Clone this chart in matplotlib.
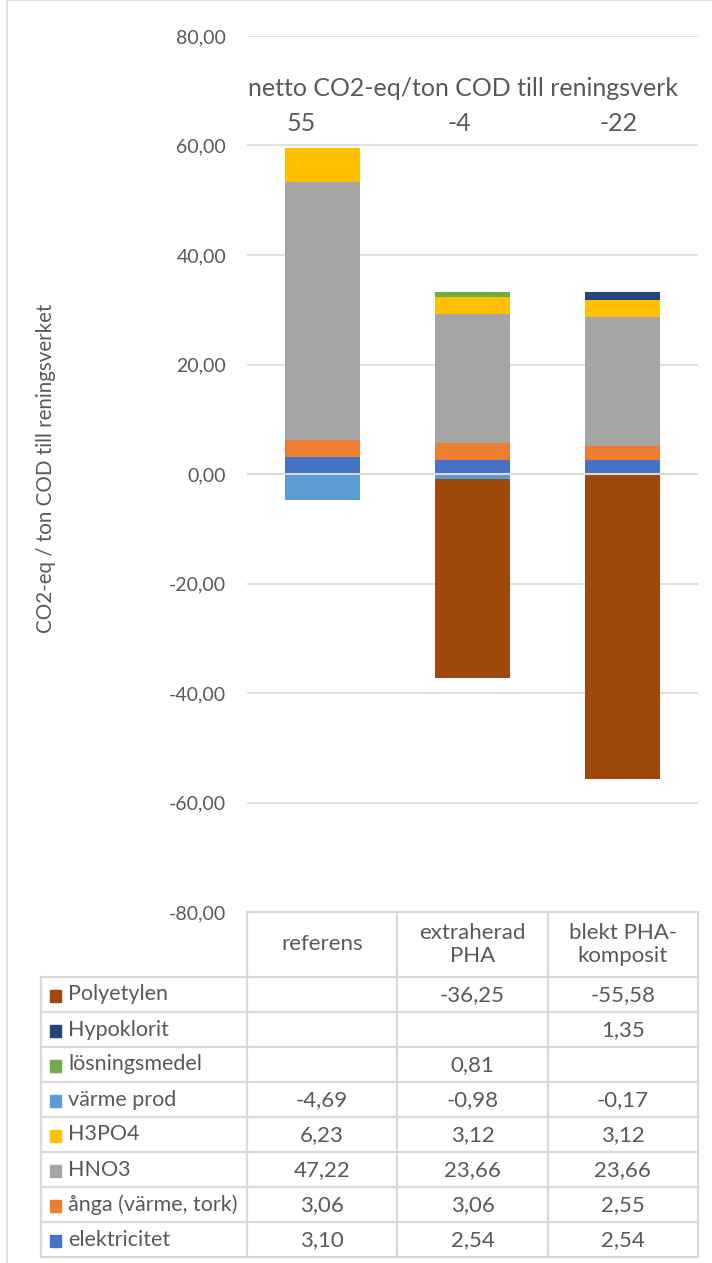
import matplotlib

matplotlib.use("Agg")
import matplotlib.pyplot as plt
import numpy as np
from matplotlib.patches import Rectangle

plt.rcParams["font.family"] = ["Lato", "DejaVu Sans"]

# Scenarios (columns) and emission sources (series, stacked bottom -> top)
scenarios = ["referens", "extraherad\nPHA", "blekt PHA-\nkomposit"]
net_labels = ["55", "-4", "-22"]
series = ["elektricitet", "ånga (värme, tork)", "HNO3", "H3PO4",
          "värme prod", "lösningsmedel", "Hypoklorit", "Polyetylen"]
elektricitet = [3.10, 2.54, 2.54]
anga = [3.06, 3.06, 2.55]
hno3 = [47.22, 23.66, 23.66]
h3po4 = [6.23, 3.12, 3.12]
varme_prod = [-4.69, -0.98, -0.17]
losningsmedel = [np.nan, 0.81, np.nan]
hypoklorit = [np.nan, np.nan, 1.35]
polyetylen = [np.nan, -36.25, -55.58]
values = [elektricitet, anga, hno3, h3po4, varme_prod, losningsmedel,
          hypoklorit, polyetylen]
colors = ["#4472C4", "#ED7D31", "#A5A5A5", "#FFC000",
          "#5B9BD5", "#70AD47", "#264478", "#9E480E"]

TXT = "#595959"
GRID = "#D9D9D9"
W, H = 712, 1263

fig = plt.figure(figsize=(W / 100, H / 100), dpi=100)


def fx(px):
    return px / W


def fy(py):
    return 1 - py / H


# outer chart border
fig.patches.append(Rectangle((fx(7), fy(1275)), fx(720), 1275 / H,
                             transform=fig.transFigure, fill=False,
                             edgecolor=GRID, lw=1.2))

L, R, T, B = 247, 698, 36, 912
ax = fig.add_axes([fx(L), fy(B), fx(R - L), (B - T) / H])

x = np.arange(len(scenarios))
pos_base = np.zeros(len(scenarios))
neg_base = np.zeros(len(scenarios))
for name, vals, c in zip(series, values, colors):
    v = np.nan_to_num(np.array(vals, dtype=float))
    bottom = np.where(v >= 0, pos_base, neg_base)
    ax.bar(x, v, width=0.5, bottom=bottom, color=c, zorder=2)
    pos_base = pos_base + np.where(v > 0, v, 0)
    neg_base = neg_base + np.where(v < 0, v, 0)

ax.set_xlim(-0.5, 2.5)
ax.set_ylim(-80, 80)
ax.set_yticks(np.arange(-80, 81, 20))
ax.set_yticklabels([f"{t:.2f}".replace(".", ",") for t in np.arange(-80, 81, 20)],
                   fontsize=14, color=TXT)
ax.tick_params(axis="y", length=0, pad=15)
ax.set_xticks([])
ax.grid(axis="y", color=GRID, lw=1.2, zorder=0)
for s in ax.spines.values():
    s.set_visible(False)
ax.axhline(0, color=GRID, lw=1.5, zorder=3)

ax.text(0.94, 70.5, "netto CO2-eq/ton COD till reningsverk", ha="center",
        va="center", fontsize=18, color=TXT)
for xp, lab in zip([-0.14, 0.91, 1.97], net_labels):
    ax.text(xp, 64.0, lab, ha="center", va="center", fontsize=18, color=TXT)

fig.text(fx(46), fy(468), "CO2-eq / ton COD till reningsverket", rotation=90,
         ha="center", va="center", fontsize=14.8, color=TXT)

# data table below the plot area
tl, tr = 41, R
hdr_top, hdr_bot, row_h = B, 977, 35
col_w = (R - L) / 3
col_edges = [L + i * col_w for i in range(4)]
tab = fig.add_axes([0, 0, 1, 1], facecolor="none")
tab.set_xlim(0, W)
tab.set_ylim(H, 0)
tab.axis("off")

lw = 1.6
# header cells
tab.plot([L, R], [hdr_top, hdr_top], color=GRID, lw=lw)
for xe in col_edges:
    tab.plot([xe, xe], [hdr_top, hdr_bot], color=GRID, lw=lw)
for i, name in enumerate(scenarios):
    tab.text(col_edges[i] + col_w / 2, (hdr_top + hdr_bot) / 2, name,
             ha="center", va="center", fontsize=16, color=TXT, linespacing=1.2)

rows = list(zip(series, values, colors))[::-1]
n = len(rows)
tab_bot = hdr_bot + n * row_h
for k in range(n + 1):
    yy = hdr_bot + k * row_h
    tab.plot([tl, tr], [yy, yy], color=GRID, lw=lw)
for xe in [tl] + col_edges:
    tab.plot([xe, xe], [hdr_bot, tab_bot], color=GRID, lw=lw)
for k, (name, vals, c) in enumerate(rows):
    yc = hdr_bot + (k + 0.5) * row_h
    tab.add_patch(Rectangle((50, yc - 5), 11, 12, color=c))
    tab.text(68, yc, name, ha="left", va="center", fontsize=15.5, color=TXT)
    for i, v in enumerate(vals):
        if np.isnan(v):
            continue
        tab.text(col_edges[i] + col_w / 2, yc + 1, f"{v:.2f}".replace(".", ","),
                 ha="center", va="center", fontsize=16, color=TXT)

fig.savefig("out.png", dpi=100)
